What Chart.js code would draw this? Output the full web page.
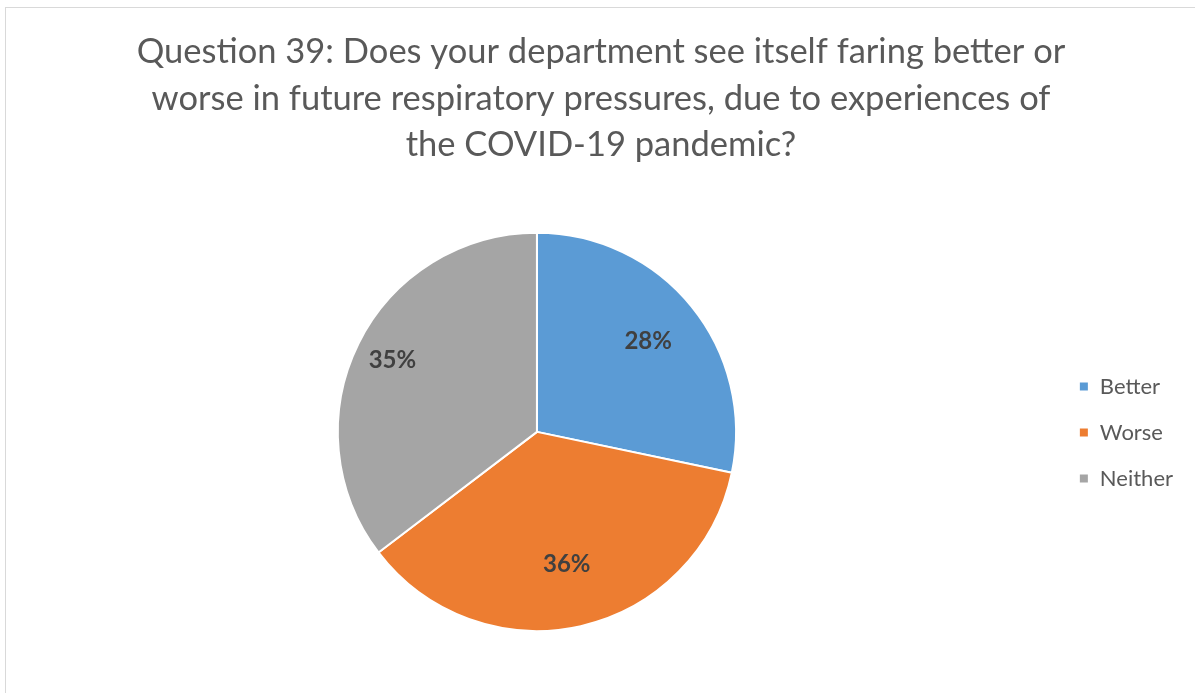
<!DOCTYPE html>
<html>
<head>
<meta charset="utf-8">
<script src="https://cdn.jsdelivr.net/npm/chart.js@4"></script>
<style>
  html, body { margin: 0; padding: 0; background: #fff; }
  #frame {
    position: absolute; left: 5px; top: 7px; width: 1200px; height: 700px;
    border-left: 1px solid #d9d9d9; border-top: 1px solid #d9d9d9;
  }
  #wrap { position: absolute; left: 0; top: 0; width: 1195px; height: 693px; }
</style>
</head>
<body>
<div id="frame"></div>
<div id="wrap"><canvas id="myChart"></canvas></div>
<script>
// Survey answers and their shares (percent)
const answers = ["Better", "Worse", "Neither"];
const shares = [28, 36, 35];
const sliceColors = ["#5b9bd5", "#ed7d31", "#a5a5a5"];
const titleLines = [
  "Question 39: Does your department see itself faring better or",
  "worse in future respiratory pressures, due to experiences of",
  "the COVID-19 pandemic?"
];

// Percent labels written inside each slice (distance from centre as a share of radius)
const labelDepth = [0.72, 0.68, 0.81];
const sliceLabels = {
  id: "sliceLabels",
  afterDatasetsDraw(chart) {
    const c = chart.ctx;
    const meta = chart.getDatasetMeta(0);
    c.save();
    c.font = "bold 24px Lato, 'Open Sans', sans-serif";
    c.fillStyle = "#404040";
    c.textAlign = "center";
    c.textBaseline = "middle";
    meta.data.forEach((arc, i) => {
      const p = arc.getProps(["x", "y", "startAngle", "endAngle", "outerRadius"], true);
      const mid = (p.startAngle + p.endAngle) / 2;
      const r = p.outerRadius * labelDepth[i];
      c.fillText(shares[i] + "%", p.x + Math.cos(mid) * r, p.y + Math.sin(mid) * r);
    });
    c.restore();
  }
};

const ctx = document.getElementById("myChart");
new Chart(ctx, {
  type: "pie",
  data: {
    labels: answers,
    datasets: [{
      data: shares,
      backgroundColor: sliceColors,
      borderColor: "#ffffff",
      borderWidth: 2
    }]
  },
  options: {
    responsive: true,
    maintainAspectRatio: false,
    animation: false,
    layout: { padding: { left: 19, right: 12, top: 0, bottom: 61 } },
    plugins: {
      title: {
        display: true,
        text: titleLines,
        color: "#595959",
        font: { family: "Lato, 'Open Sans', sans-serif", size: 34.5, weight: "normal", lineHeight: 1.36 },
        padding: { top: 28, bottom: 63 }
      },
      legend: {
        position: "right",
        title: {
          display: true,
          text: "",
          font: { size: 10, lineHeight: 1 },
          padding: { top: 223, bottom: 0 }
        },
        labels: {
          color: "#595959",
          font: { family: "Lato, 'Open Sans', sans-serif", size: 22 },
          boxWidth: 10,
          boxHeight: 10,
          padding: 24
        }
      },
      tooltip: { enabled: false }
    }
  },
  plugins: [sliceLabels]
});
</script>
</body>
</html>
